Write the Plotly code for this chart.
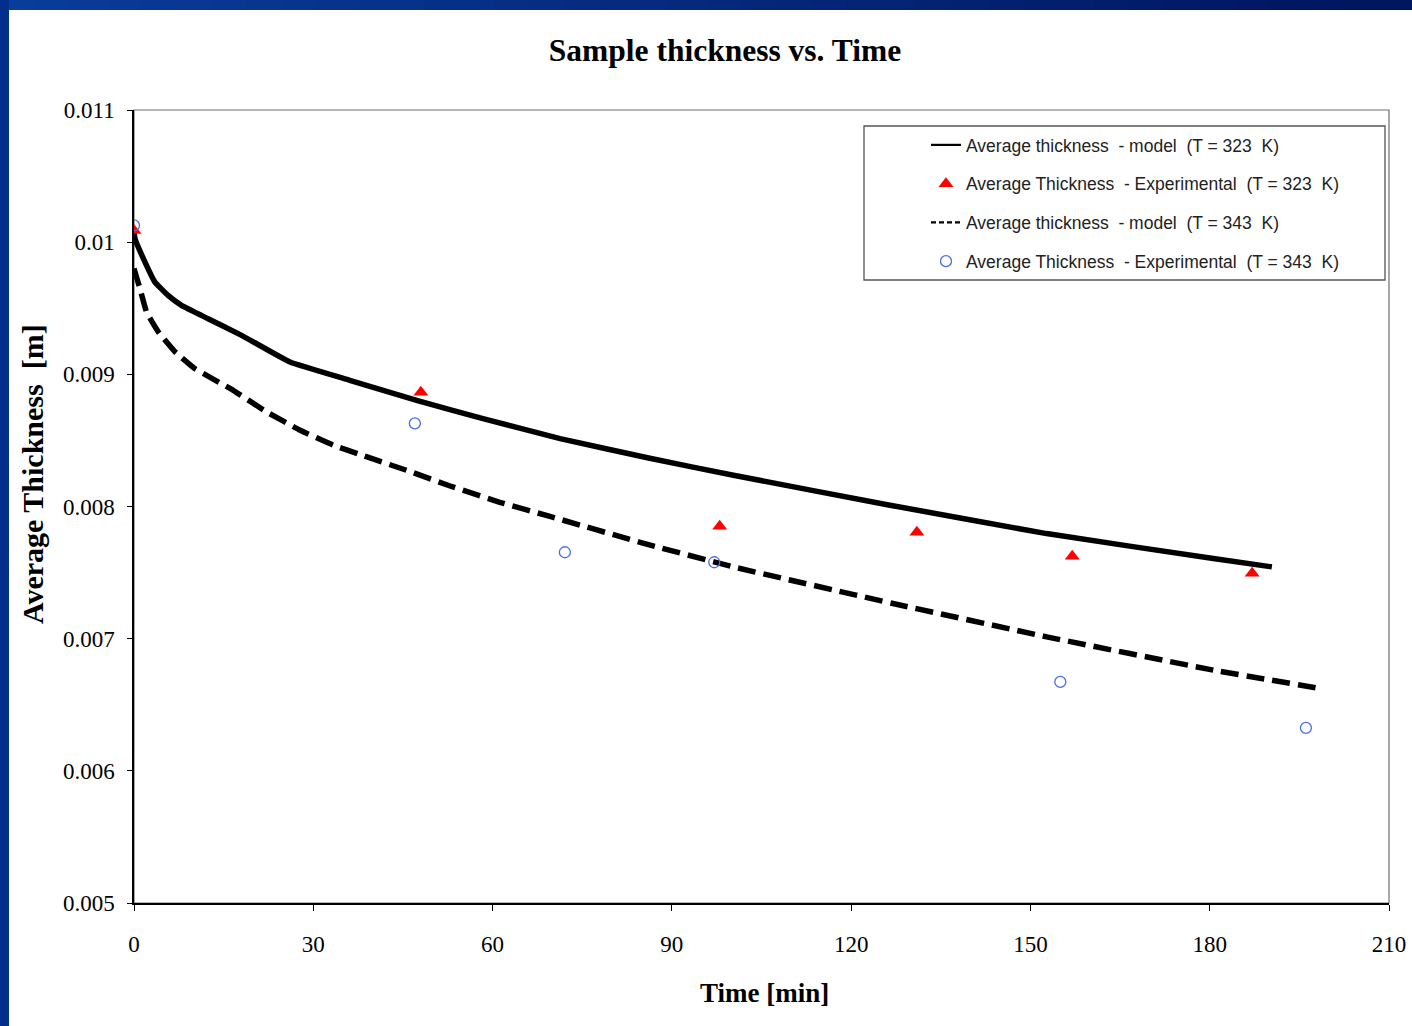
import plotly.graph_objects as go

# Model curves: average thickness [m] vs time [min]
model_323_t = [0, 0.17, 1.84, 3.5, 5.7, 7.95, 12.4, 18.0, 26.1, 36.1, 47.3, 58.4,
               71.3, 86.3, 100.3, 126.5, 152.7, 180.6, 190.4]
model_323_h = [0.01008, 0.010026, 0.009849, 0.009698, 0.009597, 0.009522, 0.009421,
               0.009295, 0.009093, 0.008955, 0.008803, 0.008665, 0.008514, 0.008365,
               0.008236, 0.008010, 0.007795, 0.007606, 0.007543]

model_343_t = [0, 0.17, 1.0, 2.1, 4.1, 6.9, 10.2, 16.6, 22.2, 27.8, 33.4, 39.0,
               45.6, 52.9, 61.2, 69.6, 85.0, 100.3, 127.0, 152.7, 180.6, 198.5]
model_343_h = [0.00980, 0.009774, 0.009648, 0.009471, 0.009320, 0.009169, 0.009043,
               0.008879, 0.008715, 0.008577, 0.008463, 0.008375, 0.008274, 0.008155,
               0.008032, 0.007925, 0.007725, 0.007543, 0.007266, 0.007014, 0.006762,
               0.006623]

# Experimental measurements
exp_323_t = [0, 48.0, 98.0, 131.0, 157.0, 187.1]
exp_323_h = [0.010089, 0.008864, 0.007851, 0.007806, 0.007624, 0.007495]

exp_343_t = [0, 47.0, 72.1, 97.1, 155.0, 196.1]
exp_343_h = [0.010127, 0.008629, 0.007654, 0.007578, 0.006673, 0.006325]

x_ticks = [0, 30, 60, 90, 120, 150, 180, 210]
y_ticks = [0.005, 0.006, 0.007, 0.008, 0.009, 0.010, 0.011]
y_tick_text = ["0.005", "0.006", "0.007", "0.008", "0.009", "0.01", "0.011"]

names = [
    "Average thickness  - model  (T = 323  K)",
    "Average Thickness  - Experimental  (T = 323  K)",
    "Average thickness  - model  (T = 343  K)",
    "Average Thickness  - Experimental  (T = 343  K)",
]

W, H = 1412, 1026
L, R, T, B = 134, 23, 110, 123
PW, PH = W - L - R, H - T - B

SERIF = "Liberation Serif, Times New Roman, serif"
SANS = "Liberation Sans, Arial, sans-serif"
RED = "#ff0000"
BLUE = "#4a6ee0"

fig = go.Figure()

# data traces (legend handled by the thin-line entries below)
fig.add_trace(go.Scatter(x=model_323_t, y=model_323_h, mode="lines",
                         line=dict(color="black", width=5.5, shape="spline", smoothing=0.3),
                         showlegend=False, hoverinfo="skip"))
fig.add_trace(go.Scatter(x=exp_323_t, y=exp_323_h, mode="markers", name=names[1],
                         marker=dict(symbol="triangle-up", size=13, color=RED),
                         legendrank=2, legendgroup="b"))
fig.add_trace(go.Scatter(x=model_343_t, y=model_343_h, mode="lines",
                         line=dict(color="black", width=5.5, dash="18px,8px",
                                   shape="spline", smoothing=0.3),
                         showlegend=False, hoverinfo="skip"))
fig.add_trace(go.Scatter(x=exp_343_t, y=exp_343_h, mode="markers", name=names[3],
                         marker=dict(symbol="circle-open", size=11, color=BLUE,
                                     line=dict(width=1.3, color=BLUE)),
                         legendrank=4, legendgroup="d"))

# legend entries for the model curves, drawn with thin lines
fig.add_trace(go.Scatter(x=[None], y=[None], mode="lines", name=names[0],
                         line=dict(color="black", width=2.2),
                         legendrank=1, legendgroup="a"))
fig.add_trace(go.Scatter(x=[None], y=[None], mode="lines", name=names[2],
                         line=dict(color="black", width=2.2, dash="5px,3px"),
                         legendrank=3, legendgroup="c"))


def px_x(p):
    return (p - L) / PW


def px_y(p):
    return 1 - (p - T) / PH


shapes = []
# slide background strips (gradient along the top)
n = 40
for i in range(n):
    f = i / (n - 1)
    r = int(0x0a + (0x00 - 0x0a) * f)
    g = int(0x3c + (0x16 - 0x3c) * f)
    b = int(0x9c + (0x5e - 0x9c) * f)
    shapes.append(dict(type="rect", xref="paper", yref="paper", layer="below",
                       x0=px_x(W * i / n), x1=px_x(W * (i + 1) / n + 1),
                       y0=px_y(10), y1=px_y(0),
                       fillcolor=f"rgb({r},{g},{b})", line=dict(width=0)))
shapes.append(dict(type="rect", xref="paper", yref="paper", layer="below",
                   x0=px_x(0), x1=px_x(9), y0=px_y(H), y1=px_y(0),
                   fillcolor="#00308c", line=dict(width=0)))
# plot frame (top/right)
shapes.append(dict(type="rect", xref="paper", yref="paper", layer="below",
                   x0=0, x1=1, y0=0, y1=1, line=dict(color="#6e6e6e", width=1.2)))
# legend frame
shapes.append(dict(type="rect", xref="paper", yref="paper", layer="above",
                   x0=px_x(864), x1=px_x(1385), y0=px_y(280), y1=px_y(126),
                   line=dict(color="#555555", width=1.3)))

annotations = [
    dict(text="<b>Time [min]</b>", xref="paper", yref="paper",
         x=px_x(764), y=px_y(993), xanchor="center", yanchor="middle",
         showarrow=False, font=dict(family=SERIF, size=27, color="black")),
    dict(text="<b>Average Thickness  [m]</b>", xref="paper", yref="paper",
         x=px_x(32), y=px_y(474), xanchor="center", yanchor="middle",
         textangle=-90, showarrow=False,
         font=dict(family=SERIF, size=30, color="black")),
]

fig.update_layout(
    width=W, height=H,
    margin=dict(l=L, r=R, t=T, b=B, autoexpand=False),
    paper_bgcolor="white", plot_bgcolor="white",
    shapes=shapes, annotations=annotations,
    title=dict(text="<b>Sample thickness vs. Time</b>", x=725 / W, xanchor="center",
               xref="container", yref="container", y=1 - 50 / H, yanchor="middle",
               font=dict(family=SERIF, size=31.5, color="black")),
    legend=dict(x=px_x(926), xanchor="left", y=px_y(127), yanchor="top",
                bgcolor="rgba(0,0,0,0)", borderwidth=0,
                font=dict(family=SANS, size=17.5, color="#222222"),
                traceorder="grouped", tracegroupgap=13, itemwidth=30),
    xaxis=dict(range=[0, 210], tickvals=x_ticks, ticks="outside", ticklen=6,
               tickcolor="black", tickwidth=1.3, showline=True, linecolor="black",
               linewidth=1.5, showgrid=False, zeroline=False, automargin=False,
               ticklabelstandoff=14,
               tickfont=dict(family=SERIF, size=23, color="black")),
    yaxis=dict(range=[0.005, 0.011], tickvals=y_ticks, ticktext=y_tick_text,
               ticks="outside", ticklen=5, tickcolor="black", tickwidth=1.3,
               showline=True, linecolor="black", linewidth=1.5, showgrid=False,
               zeroline=False, automargin=False, ticklabelstandoff=8,
               tickfont=dict(family=SERIF, size=23, color="black")),
)

fig.write_html("out.html")
